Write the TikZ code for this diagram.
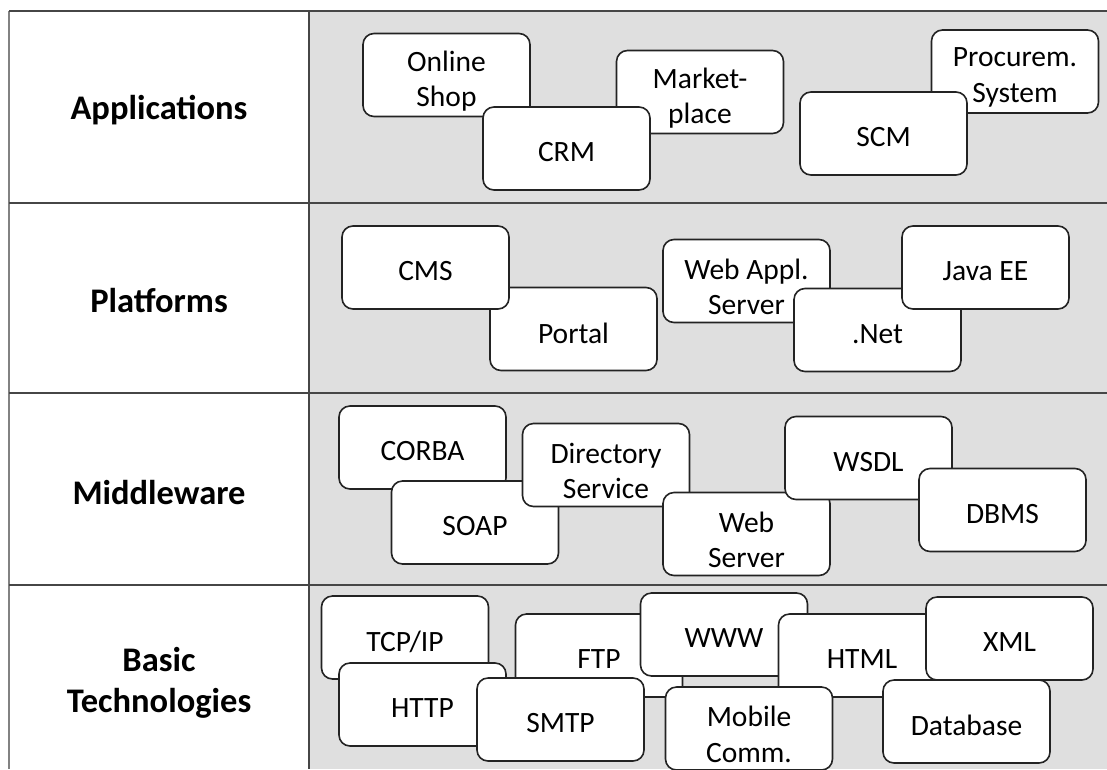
\documentclass[tikz,border=0pt]{standalone}
\usepackage{fontspec}
\setmainfont{Carlito}
\definecolor{cellgray}{RGB}{223,223,223}
\definecolor{tableline}{RGB}{70,70,70}
\definecolor{outerline}{RGB}{130,130,130}
\definecolor{boxline}{RGB}{35,35,35}
\newcommand{\boxfont}{\fontsize{29.5}{35.4}\selectfont}
\newcommand{\layerfont}{\fontsize{34.5}{41}\selectfont\bfseries}
\tikzset{
  box/.style={draw=boxline, line width=1.6pt, rounded corners=11pt, fill=white,
    minimum width=167pt, minimum height=83pt, inner sep=0pt},
  txt/.style={font=\boxfont, align=center, yshift=-4pt, inner sep=0pt},
  txtb/.style={txt, yshift=-2pt},
  layer/.style={font=\layerfont, align=center, text=black},
  rule/.style={draw=tableline, line width=1.5pt},
}
\begin{document}
\begin{tikzpicture}[x=1pt,y=-1pt]
\useasboundingbox (0,0) rectangle (1107,769);
\fill[white] (0,0) rectangle (1107,769);
\fill[cellgray] (309,11) rectangle (1107,769);
% table rules
\coordinate (tl) at (9,11);
\coordinate (tr) at (1107,11);
\coordinate (r1l) at (9,203);
\coordinate (r1r) at (1107,203);
\coordinate (r2l) at (9,393);
\coordinate (r2r) at (1107,393);
\coordinate (r3l) at (9,585);
\coordinate (r3r) at (1107,585);
\coordinate (bl) at (9,769);
\coordinate (dt) at (309,11);
\coordinate (db) at (309,769);
\draw[draw=outerline, line width=1.8pt] (tl) -- (bl);
\draw[rule] (tl) -- (tr);
\draw[rule] (r1l) -- (r1r);
\draw[rule] (r2l) -- (r2r);
\draw[rule] (r3l) -- (r3r);
\draw[rule] (dt) -- (db);
% layer names
\node[layer] (lapp) at (159,110) {Applications};
\node[layer] (lplat) at (159,301) {Platforms};
\node[layer] (lmid) at (159,493) {Middleware};
\node[layer] (lbasic) at (159,683) {Basic\\Technologies};
% Applications
\node[box, label={[txtb]center:{Online\\Shop}}] (shop) at (446.5,75) {};
\node[box, label={[txtb]center:{Market-\\place}}] (market) at (700,92) {};
\node[box, label={[txt]center:{CRM}}] (crm) at (566.5,148.5) {};
\node[box, label={[txtb]center:{Procurem.\\System}}] (procure) at (1015,71.5) {};
\node[box, label={[txt]center:{SCM}}] (scm) at (883.5,133.5) {};
% Platforms
\node[box, label={[txt]center:{Portal}}] (portal) at (573.5,329) {};
\node[box, label={[txt]center:{CMS}}] (cms) at (425.5,267.5) {};
\node[box, label={[txtb]center:{Web Appl.\\Server}}] (webappl) at (746.5,281) {};
\node[box, label={[txt]center:{.Net}}] (dotnet) at (877.5,330) {};
\node[box, label={[txt]center:{Java EE}}] (javaee) at (985.5,267.5) {};
% Middleware
\node[box, label={[txt]center:{CORBA}}] (corba) at (422.5,447.5) {};
\node[box, label={[txt]center:{SOAP}}] (soap) at (475,522.5) {};
\node[box, label={[txtb]center:{Directory\\Service}}] (dirsrv) at (606,465) {};
\node[box, label={[txtb]center:{Web\\Server}}] (websrv) at (746.5,534) {};
\node[box, label={[txt]center:{WSDL}}] (wsdl) at (868.5,458) {};
\node[box, label={[txt]center:{DBMS}}] (dbms) at (1002.5,510) {};
% Basic Technologies
\node[box, label={[txt]center:{TCP/IP}}] (tcpip) at (405,637.5) {};
\node[box, label={[txt]center:{HTTP}}] (http) at (422.5,704.5) {};
\node[box, label={[txt]center:{FTP}}] (ftp) at (599,655.5) {};
\node[box, label={[txt]center:{WWW}}] (www) at (724,634.5) {};
\node[box, label={[txt]center:{SMTP}}] (smtp) at (560.5,719.5) {};
\node[box, label={[txt]center:{HTML}}] (html) at (862,655.5) {};
\node[box, label={[txtb]center:{Mobile\\Comm.}}] (mobile) at (749,728.5) {};
\node[box, label={[txt]center:{XML}}] (xml) at (1009.5,638.5) {};
\node[box, label={[txt]center:{Database}}] (database) at (966.5,721.5) {};
\end{tikzpicture}
\end{document}
